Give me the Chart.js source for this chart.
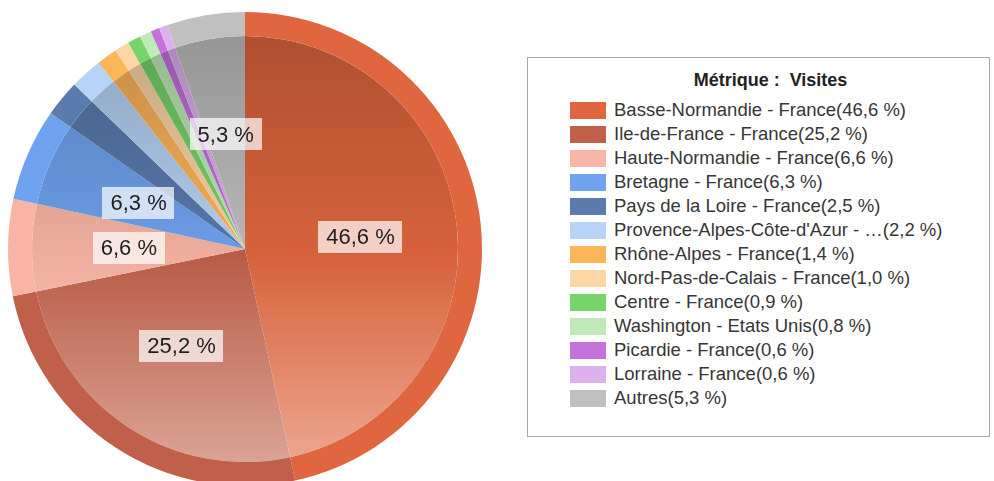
<!DOCTYPE html>
<html>
<head>
<meta charset="utf-8">
<script src="https://cdn.jsdelivr.net/npm/chart.js@4"></script>
<style>
  html, body { margin: 0; padding: 0; background: #fff; overflow: hidden; }
  body { width: 994px; height: 481px; position: relative; font-family: "Liberation Sans", Arial, sans-serif; }
  #pieWrap { position: absolute; left: 0; top: 0; width: 490px; height: 500px; }
  #legend {
    position: absolute; left: 527px; top: 57px; width: 461px; height: 378px;
    border: 1px solid #a8a8a8; background: #fff;
  }
  #legend .title {
    position: absolute; top: 11px; left: 24px; right: 0; text-align: center;
    font-weight: bold; font-size: 18px; line-height: 22px; color: #222; white-space: pre;
  }
  #legend ul { list-style: none; margin: 0; padding: 0; position: absolute; top: 40px; left: 42px; }
  #legend li { height: 24px; display: flex; align-items: center; font-size: 18.5px; color: #363636; white-space: pre; }
  #legend .sw { width: 36px; height: 17px; margin-right: 8px; flex: none; }
</style>
</head>
<body>
<div id="pieWrap"><canvas id="pie"></canvas></div>
<div id="legend"><div class="title">Métrique :  Visites</div><ul id="legendItems"></ul></div>
<script>
// data (percent of visits)
const regions = [
  "Basse-Normandie - France",
  "Ile-de-France - France",
  "Haute-Normandie - France",
  "Bretagne - France",
  "Pays de la Loire - France",
  "Provence-Alpes-Côte-d'Azur - France",
  "Rhône-Alpes - France",
  "Nord-Pas-de-Calais - France",
  "Centre - France",
  "Washington - Etats Unis",
  "Picardie - France",
  "Lorraine - France",
  "Autres"
];
const visits = [46.6, 25.2, 6.6, 6.3, 2.5, 2.2, 1.4, 1.0, 0.9, 0.8, 0.6, 0.6, 5.3];
const colors = [
  "#e0663f", "#c0604a", "#f8b4a4", "#6fa3f0", "#5b7baf", "#b7d3f5", "#fdb55a",
  "#fdd6a6", "#77d46a", "#bfe9b7", "#c471dc", "#ddb0ee", "#c0c0c0"
];
const metricTitle = "Métrique :  Visites";

function fmt(v) {
  return v.toFixed(1).replace('.', ',') + ' %';
}

function hexRgb(hex) {
  const n = parseInt(hex.slice(1), 16);
  return [(n >> 16) & 255, (n >> 8) & 255, n & 255];
}
function shade(hex, f) {
  const c = hexRgb(hex).map(x => Math.round(x * f));
  return 'rgb(' + c.join(',') + ')';
}
function tint(hex, f) {
  const c = hexRgb(hex).map(x => Math.round(x + (255 - x) * f));
  return 'rgb(' + c.join(',') + ')';
}

// inner disc gets a top-dark / bottom-light gradient
function innerFill(ctx) {
  const chart = ctx.chart;
  const area = chart.chartArea;
  const base = colors[ctx.dataIndex];
  if (!area) return base;
  const g = chart.ctx.createLinearGradient(0, area.top + 24, 0, area.bottom - 10);
  g.addColorStop(0, shade(base, 0.78));
  g.addColorStop(0.5, shade(base, 0.96));
  g.addColorStop(1, tint(base, 0.45));
  return g;
}

// white boxes with the percent on big slices
const sliceLabels = {
  id: 'sliceLabels',
  afterDatasetsDraw(chart) {
    const meta = chart.getDatasetMeta(1);
    const outer = chart.getDatasetMeta(0).data[0].outerRadius;
    const ctx = chart.ctx;
    ctx.save();
    ctx.font = '22px "Liberation Sans", Arial, sans-serif';
    ctx.textAlign = 'center';
    ctx.textBaseline = 'middle';
    meta.data.forEach((arc, i) => {
      if (visits[i] < 5) return;
      const p = arc.getProps(['x', 'y', 'startAngle', 'endAngle']);
      const mid = (p.startAngle + p.endAngle) / 2;
      const r = outer * 0.49;
      const x = p.x + Math.cos(mid) * r;
      const y = p.y + Math.sin(mid) * r;
      const txt = fmt(visits[i]);
      const w = ctx.measureText(txt).width + 16;
      const h = 32;
      ctx.fillStyle = 'rgba(255,255,255,0.7)';
      ctx.fillRect(Math.round(x - w / 2), Math.round(y - h / 2), Math.round(w), h);
      ctx.fillStyle = '#1e1e1e';
      ctx.fillText(txt, x, y + 1);
    });
    ctx.restore();
  }
};

new Chart(document.getElementById('pie'), {
  type: 'pie',
  data: {
    labels: regions,
    datasets: [
      {
        // outer rim
        data: visits,
        backgroundColor: colors,
        borderWidth: 0,
        weight: 24
      },
      {
        data: visits,
        backgroundColor: innerFill,
        borderWidth: 0,
        weight: 213
      }
    ]
  },
  options: {
    responsive: true,
    maintainAspectRatio: false,
    animation: false,
    layout: {
      padding: { left: 8, right: 8, top: 12, bottom: 14 }
    },
    plugins: {
      legend: { display: false },
      tooltip: { enabled: false }
    }
  },
  plugins: [sliceLabels]
});

// legend built from the same arrays
const ul = document.getElementById('legendItems');
regions.forEach((name, i) => {
  const shown = name.length > 30 ? name.slice(0, 29) + '…' : name;
  const li = document.createElement('li');
  const sw = document.createElement('span');
  sw.className = 'sw';
  sw.style.background = colors[i];
  li.appendChild(sw);
  li.appendChild(document.createTextNode(shown + '(' + fmt(visits[i]) + ')'));
  ul.appendChild(li);
});
document.querySelector('#legend .title').textContent = metricTitle;
</script>
</body>
</html>
